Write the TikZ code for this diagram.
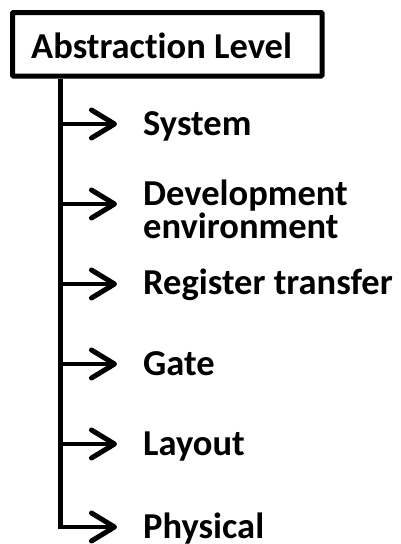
\documentclass[tikz,border=0pt]{standalone}
\usepackage{fontspec}
\setmainfont{Carlito}[Ligatures={NoCommon}]
\usetikzlibrary{arrows.meta}
\begin{document}
\begin{tikzpicture}[x=1pt, y=-1pt,
  every node/.style={font=\fontsize{36.5}{33}\selectfont\bfseries, inner sep=0pt},
  framebox/.style={draw, line width=5pt, rounded corners=1pt, minimum width=309.5pt, minimum height=63.5pt},
  label/.style={anchor=base west, align=left},
  trunk/.style={line width=5pt},
  branch/.style={line width=4.5pt, -{Straight Barb[length=23pt, width=28pt, line width=5pt, line cap=round, line join=round]}},
]
\useasboundingbox (0,0) rectangle (400,544);

% title frame and its caption
\node[framebox] (box) at (167.25,44.25) {};
\node[label] (title) at (31,58) {Abstraction Level};

% points where the branches leave the trunk
\coordinate (j1) at (60,124);
\coordinate (j2) at (60,204);
\coordinate (j3) at (60,284);
\coordinate (j4) at (60,364);
\coordinate (j5) at (60,444);
\coordinate (j6) at (60,527);

% arrow tips
\coordinate (e1) at (117,124);
\coordinate (e2) at (117,204);
\coordinate (e3) at (117,284);
\coordinate (e4) at (117,364);
\coordinate (e5) at (117,444);
\coordinate (e6) at (117,527);

% level labels (a two-line label sits on its last baseline)
\node[label] (l1) at (143,135) {System};
\node[label] (l2) at (143,238) {Development\\environment};
\node[label] (l3) at (143,294) {Register transfer};
\node[label] (l4) at (143,375) {Gate};
\node[label] (l5) at (143,455) {Layout};
\node[label] (l6) at (143,538) {Physical};

% trunk down from the frame, ending in the last branch
\draw[trunk] (box.south -| j1) -- ([yshift=2.5pt]j6);
\draw[branch] ([xshift=-2.5pt]j6) -- (e6);

\foreach \i in {1,...,5}
  \draw[branch] (j\i) -- (e\i);
\end{tikzpicture}
\end{document}
